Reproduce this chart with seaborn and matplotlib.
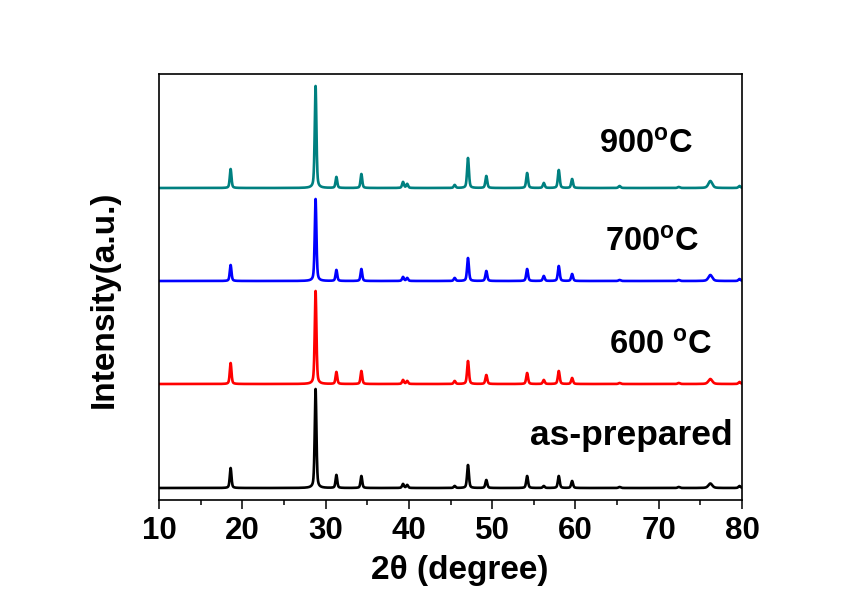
import numpy as np
import pandas as pd
import matplotlib
matplotlib.use("Agg")
import matplotlib.pyplot as plt
import seaborn as sns
from matplotlib.ticker import MultipleLocator

# Samples (bottom to top) and their stacking offsets
samples = ["as-prepared", "600 °C", "700 °C", "900 °C"]
colors = ["#000000", "#ff0000", "#0000ff", "#008080"]
offsets = [0, 104, 207, 300]

# Reflection positions (2θ, degree) and peak widths (FWHM, degree)
peak_pos = [18.6, 28.8, 31.3, 34.3, 39.3, 39.8, 45.5, 47.1, 49.3,
            54.2, 56.2, 58.0, 59.6, 65.3, 72.4, 76.2, 79.7]
peak_fwhm = [0.24, 0.24, 0.24, 0.24, 0.26, 0.26, 0.26, 0.26, 0.26,
             0.26, 0.26, 0.26, 0.26, 0.3, 0.3, 0.55, 0.3]

# Peak heights (a.u.) for each sample
h_asprep = [20, 99, 13, 12, 4, 3, 2, 23, 8, 12, 2, 12, 7, 1, 1, 4.5, 2]
h_600 = [21, 93, 12, 13, 4, 3, 3, 23, 9, 11, 4, 13, 6, 1, 1, 5, 2]
h_700 = [16, 82, 11, 12, 4, 3, 3, 23, 10, 12, 5, 15, 7, 1, 1, 6, 2]
h_900 = [19, 102, 11, 14, 6, 4, 3, 30, 12, 15, 5, 18, 9, 2, 1, 7, 2]
heights = [h_asprep, h_600, h_700, h_900]

# Text labels for each pattern
labels = ["as-prepared", r"600 $^{\mathrm{o}}$C", r"700$^{\mathrm{o}}$C", r"900$^{\mathrm{o}}$C"]
label_x = [54.6, 64.0, 63.5, 62.8]
label_y = [43, 133, 236, 334]
label_size = [25.5, 23.5, 23.5, 23.5]


def pattern(two_theta, pos, fwhm, amp, eta=0.45):
    """Pseudo-Voigt profile summed over the listed reflections."""
    y = np.zeros_like(two_theta)
    for p, w, a in zip(pos, fwhm, amp):
        g = np.exp(-4 * np.log(2) * ((two_theta - p) / w) ** 2)
        l = 1.0 / (1.0 + 4 * ((two_theta - p) / w) ** 2)
        y += a * ((1 - eta) * g + eta * l)
    return y


two_theta = np.arange(10.0, 80.0001, 0.02)
frames = []
for name, amp, off in zip(samples, heights, offsets):
    frames.append(pd.DataFrame({
        "two_theta": two_theta,
        "intensity": pattern(two_theta, peak_pos, peak_fwhm, amp) + off,
        "sample": name,
    }))
df = pd.concat(frames, ignore_index=True)

sns.set_theme(style="white")
plt.rcParams["font.family"] = ["Liberation Sans", "DejaVu Sans"]
plt.rcParams["font.weight"] = "bold"
plt.rcParams["text.color"] = "black"
plt.rcParams["axes.labelcolor"] = "black"
plt.rcParams["xtick.color"] = "black"
plt.rcParams["ytick.color"] = "black"
plt.rcParams["mathtext.fontset"] = "custom"
plt.rcParams["mathtext.rm"] = "Liberation Sans:bold"
plt.rcParams["mathtext.it"] = "Liberation Sans:bold"
plt.rcParams["mathtext.bf"] = "Liberation Sans:bold"

fig = plt.figure(figsize=(8.47, 5.90), dpi=100)
ax = fig.add_axes([159 / 847, 90 / 590, 583 / 847, 426 / 590])

sns.lineplot(data=df, x="two_theta", y="intensity", hue="sample",
             hue_order=samples, palette=colors, linewidth=1.9,
             legend=False, errorbar=None, ax=ax)

ax.set_xlim(10, 80)
ax.set_ylim(-12, 414)
ax.xaxis.set_major_locator(MultipleLocator(10))
ax.xaxis.set_minor_locator(MultipleLocator(5))
ax.set_yticks([])
ax.tick_params(axis="x", which="major", direction="out", length=6.5,
               width=1.1, color="black", labelcolor="black",
               labelsize=22.5, pad=5, bottom=True)
ax.tick_params(axis="x", which="minor", direction="out", length=3.3,
               width=1.1, color="black", bottom=True)
for lab in ax.get_xticklabels():
    lab.set_fontweight("bold")
    lab.set_color("black")

for sp in ax.spines.values():
    sp.set_color("black")
    sp.set_linewidth(1.2)
    sp.set_visible(True)

ax.set_xlabel("2θ (degree)", fontsize=24, fontweight="bold", color="black")
ax.set_ylabel("Intensity(a.u.)", fontsize=24, fontweight="bold", color="black")
ax.xaxis.set_label_coords(0.515, -0.128)
ax.yaxis.set_label_coords(-0.067, 0.472)

for txt, x, y, s in zip(labels, label_x, label_y, label_size):
    ax.text(x, y, txt, fontsize=s, fontweight="bold", color="black",
            ha="left", va="baseline")

fig.savefig("out.png", dpi=100, facecolor="white")
